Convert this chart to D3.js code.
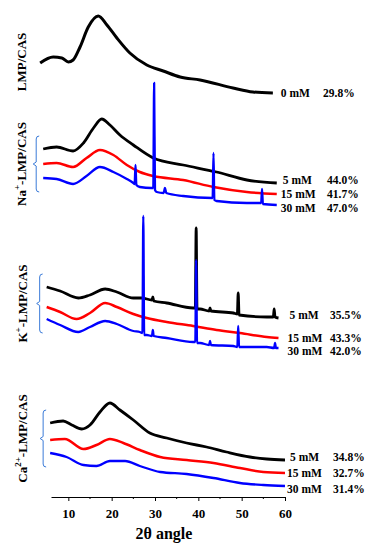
<!DOCTYPE html>
<html>
<head>
<meta charset="utf-8">
<script src="https://cdn.jsdelivr.net/npm/d3@7"></script>
<style>
body { margin: 0; background: #fff; }
text { font-family: "Liberation Serif", "Times New Roman", serif; font-weight: bold; fill: #000; }
</style>
</head>
<body>
<div id="chart"></div>
<script>
// XRD patterns, [2theta, intensity (a.u., stacked)]
var lmpCas0 = [[3.5,434],[6.5,440],[8.5,439],[10.0,435],[11.1,437],[12.7,450],[14.6,470],[16.9,481],
  [18.9,472],[21.2,459],[24.2,444],[28.1,432],[31.9,426],[35.8,420],[40.4,417],[48.0,409],[52.6,405],[57.2,404]];

var na5 = [[4.2,348],[7.3,350],[11.1,346],[13.5,354],[15.8,369],[17.7,378],[19.6,372],[21.9,362],
  [25.0,352],[29.6,339],[36.5,332],[44.2,325],[51.2,317],[58.1,314]];
var na15 = [[4.2,333],[7.3,334],[11.1,330],[14.2,339],[17.3,347],[20.4,342],[23.5,332],[26.5,325],
  [29.6,321],[36.5,317],[43.5,310],[51.2,305],[58.1,303]];
var na30 = [[4.2,319],[7.3,318],[11.1,313],[14.2,321],[17.3,330],[20.4,325],[23.5,318],[25.0,314],
  [25.3,313],[25.5,332],[25.7,312],[26.5,310],[29.2,309],[29.6,309],[29.8,414],[30.0,307],[30.4,305],
  [32.0,304],[32.3,309],[32.6,304],[36.5,301],[43.3,299],[43.5,344],[43.7,297],[44.2,296],[51.2,294],
  [54.5,294],[54.7,308],[54.9,293],[58.1,292]];

var k5 = [[5.0,210],[8.1,206],[12.3,199],[15.0,202],[18.5,208],[21.2,205],[25.0,199],[26.9,199],
  [29.3,197],[29.5,200],[29.7,196],[32.7,194],[38.8,189],[39.3,189],[39.5,269],[39.7,188],[40.4,188],
  [42.5,186],[42.7,189],[42.9,186],[48.1,184],[49.0,183],[49.2,204],[49.4,182],[55.8,180],[57.3,180],
  [57.5,188],[57.7,180],[58.5,179]];
var k15 = [[5.0,190],[8.1,185],[11.9,178],[15.0,184],[18.5,194],[21.2,190],[25.0,183],[28.1,179],
  [32.7,175],[38.8,171],[44.2,167],[49.6,164],[55.8,160],[58.5,159]];
var k30 = [[5.0,178],[8.1,172],[12.3,165],[15.0,170],[18.5,176],[21.2,173],[25.0,166],[26.5,165],
  [27.1,164],[27.3,281],[27.5,162],[28.1,162],[29.3,161],[29.5,167],[29.7,161],[32.7,159],[38.8,155],
  [39.3,155],[39.5,237],[39.7,154],[40.4,154],[42.5,152],[42.7,156],[42.9,152],[48.1,151],[49.0,150],
  [49.2,171],[49.4,150],[55.8,150],[57.5,149],[57.7,154],[57.9,149],[58.5,149]];

var ca5 = [[5.8,74],[8.8,76],[10.8,72],[13.1,68],[15.0,72],[17.3,85],[19.6,94],[21.9,87],[25.0,77],
  [28.8,64],[32.7,59],[37.3,54],[41.9,50],[46.5,45],[51.9,40],[55.8,38],[60.0,37]];
var ca15 = [[5.8,57],[9.2,58],[13.5,48],[16.5,52],[19.6,58],[22.7,54],[26.5,47],[31.2,40],[37.3,37],
  [43.5,34],[49.6,29],[55.0,25],[60.0,24]];
var ca30 = [[5.8,44],[9.6,40],[13.5,32],[16.5,31],[19.6,36],[23.1,36],[26.5,31],[31.2,25],[37.3,23],
  [43.5,19],[49.6,14],[55.0,12],[60.0,11]];

var concLabels = ["5 mM", "15 mM", "30 mM"];
var naPct = ["44.0%", "41.7%", "47.0%"];
var kPct = ["35.5%", "43.3%", "42.0%"];
var caPct = ["34.8%", "32.7%", "31.4%"];
var xTicks = [10, 20, 30, 40, 50, 60];
var xMinor = [15, 25, 35, 45, 55];

var colors = ["#000000", "#ff0000", "#0000ff"];

// panel layout
var panels = [
  {ion: "", sup: "", series: [lmpCas0], conc: ["0 mM"], pct: ["29.8%"], labDx: [8], pctX: 323, bracket: false, tx: 25.5, ty: 62},
  {ion: "Na", sup: "+", series: [na5, na15, na30], conc: concLabels, pct: naPct, labDx: [6, 4, 4], pctX: 327, bracket: true, tx: 25.5},
  {ion: "K", sup: "+", series: [k5, k15, k30], conc: concLabels, pct: kPct, labDx: [11, 9, 9], pctX: 330, bracket: true, tx: 27},
  {ion: "Ca", sup: "2+", series: [ca5, ca15, ca30], conc: concLabels, pct: caPct, labDx: [5, 2, 2], pctX: 333, bracket: true, tx: 27}
];
var labDy = [-3, 0, 3];
var strokeW = [2.8, 2.5, 2.3];

var width = 377, height = 550;
var svg = d3.select("#chart").append("svg")
  .attr("width", width)
  .attr("height", height);

var x = d3.scaleLinear().domain([6, 60]).range([51, 285]);
var y = d3.scaleLinear().domain([0, 490]).range([497, 7]);

var line = d3.line()
  .x(d => x(d[0]))
  .y(d => y(d[1]))
  .curve(d3.curveMonotoneX);

panels.forEach(function(p) {
  var g = svg.append("g");

  p.series.forEach(function(s, i) {
    g.append("path")
      .datum(s)
      .attr("fill", "none")
      .attr("stroke", colors[i])
      .attr("stroke-width", p.series.length == 1 ? 3 : strokeW[i])
      .attr("stroke-linejoin", "round")
      .attr("d", line);

    var last = s[s.length - 1];
    var dy = p.series.length == 1 ? 0 : labDy[i];
    g.append("text")
      .attr("x", x(last[0]) + p.labDx[i])
      .attr("y", y(last[1]) + dy)
      .attr("dominant-baseline", "central")
      .attr("font-size", 11.5)
      .text(p.conc[i]);
    g.append("text")
      .attr("x", p.pctX)
      .attr("y", y(last[1]) + dy)
      .attr("dominant-baseline", "central")
      .attr("font-size", 11.5)
      .text(p.pct[i]);
  });

  // curly bracket grouping the three curves
  var cy = p.ty;
  if (p.bracket) {
    var first = p.series[0][0], lastS = p.series[p.series.length - 1][0];
    var top = y(first[1] + 13), bot = y(lastS[1] - 14);
    var bx = x(first[0]) - 7;
    cy = (top + bot) / 2;
    var path = d3.path();
    path.moveTo(bx + 3, top);
    path.quadraticCurveTo(bx, top, bx, top + 3);
    path.lineTo(bx, cy - 2);
    path.lineTo(bx - 3, cy);
    path.lineTo(bx, cy + 2);
    path.lineTo(bx, bot - 3);
    path.quadraticCurveTo(bx, bot, bx + 3, bot);
    g.append("path")
      .attr("d", path.toString())
      .attr("fill", "none")
      .attr("stroke", "#3b7bd8")
      .attr("stroke-width", 1);
  }

  // vertical sample label
  var lab = g.append("text")
    .attr("transform", "translate(" + p.tx + "," + cy + ") rotate(-90)")
    .attr("text-anchor", "middle")
    .attr("font-size", 13);
  if (p.ion) {
    lab.append("tspan").text(p.ion);
    lab.append("tspan").attr("font-size", 9).attr("dy", -6).text(p.sup);
    lab.append("tspan").attr("dy", 6).text("-LMP/CAS");
  } else {
    lab.text("LMP/CAS");
  }
});

// x axis
var xAxis = d3.axisBottom(x)
  .tickValues(xTicks)
  .tickSize(4)
  .tickSizeOuter(0)
  .tickFormat(d3.format("d"));

var axG = svg.append("g")
  .attr("transform", "translate(0,497)")
  .call(xAxis);
axG.select(".domain").attr("stroke-width", 1);
axG.selectAll("text")
  .attr("font-size", 13)
  .attr("font-family", "'Liberation Serif', 'Times New Roman', serif")
  .attr("font-weight", "bold")
  .attr("dy", "1.05em");

svg.append("g")
  .attr("transform", "translate(0,497)")
  .selectAll("line")
  .data(xMinor)
  .enter()
  .append("line")
  .attr("x1", d => x(d))
  .attr("x2", d => x(d))
  .attr("y1", 0)
  .attr("y2", 2)
  .attr("stroke", "#000");

svg.append("text")
  .attr("x", 164)
  .attr("y", 539)
  .attr("text-anchor", "middle")
  .attr("font-size", 16)
  .text("2\u03b8 angle");
</script>
</body>
</html>
